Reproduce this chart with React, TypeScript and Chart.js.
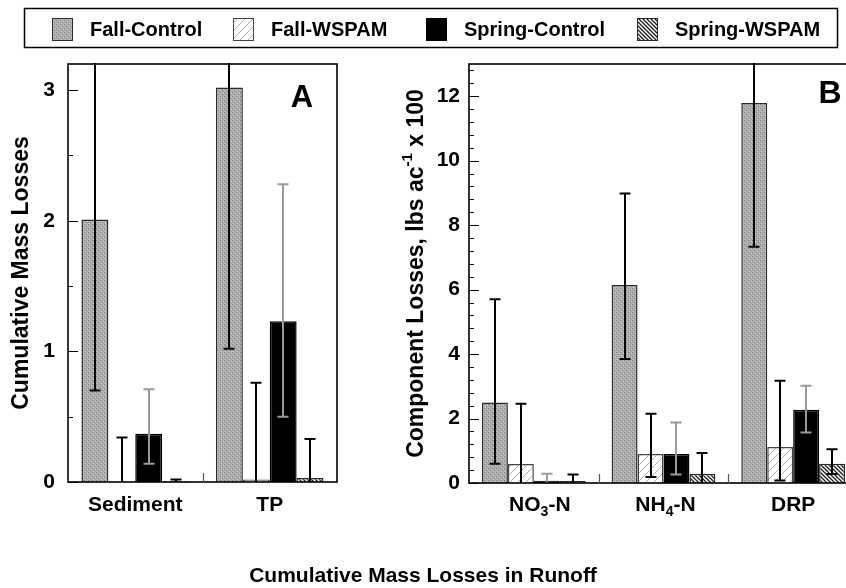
import React, { useEffect, useRef } from 'react';
import { Chart, registerables } from 'chart.js';
Chart.register(...registerables);

const FONT = '"Liberation Sans", Arial, Helvetica, sans-serif';

// ---- data ----
const seriesNames = ['Fall-Control', 'Fall-WSPAM', 'Spring-Control', 'Spring-WSPAM'];

const categoriesA = ['Sediment', 'TP'];
const fallControlA = [2.01, 3.02];
const fallWspamA = [0.0, 0.02];
const springControlA = [0.37, 1.23];
const springWspamA = [0.005, 0.03];
const fallControlHiA = [3.32, 5.02];
const fallControlLoA = [0.7, 1.02];
const fallWspamHiA = [0.34, 0.76];
const fallWspamLoA = [-0.34, -0.72];
const springControlHiA = [0.71, 2.28];
const springControlLoA = [0.14, 0.5];
const springWspamHiA = [0.02, 0.33];
const springWspamLoA = [-0.01, -0.27];
const yTicksA = [0, 1, 2, 3];

const categoriesB = ['NO3-N', 'NH4-N', 'DRP'];
const fallControlB = [2.5, 6.14, 11.79];
const fallWspamB = [0.59, 0.9, 1.12];
const springControlB = [0.07, 0.9, 2.27];
const springWspamB = [0.06, 0.29, 0.6];
const fallControlHiB = [5.7, 8.98, 16.2];
const fallControlLoB = [0.6, 3.85, 7.33];
const fallWspamHiB = [2.46, 2.15, 3.17];
const fallWspamLoB = [-1.28, 0.19, 0.08];
const springControlHiB = [0.29, 1.88, 3.02];
const springControlLoB = [-0.15, 0.26, 1.57];
const springWspamHiB = [0.26, 0.93, 1.05];
const springWspamLoB = [-0.14, -0.35, 0.28];
const yTicksB = [0, 2, 4, 6, 8, 10, 12];

const yTitleA = 'Cumulative Mass Losses';
const yTitleBParts = ['Component Losses, lbs ac', '-1', ' x 100'];
const xTitle = 'Cumulative Mass Losses in Runoff';

// ---- styles ----
const errColors = ['#000', '#000', '#9a9a9a', '#000'];
const borderColors = ['#2a2a2a', '#444', '#000', '#2a2a2a'];

function makePattern(kind: string): any {
  const c = document.createElement('canvas');
  const size = kind === 'dots' ? 4 : kind === 'fwd' ? 8 : 4;
  c.width = size;
  c.height = size;
  const g = c.getContext('2d')!;
  if (kind === 'dots') {
    g.fillStyle = '#adadad';
    g.fillRect(0, 0, 4, 4);
    g.fillStyle = '#7e7e7e';
    g.fillRect(0, 0, 1, 1);
    g.fillRect(2, 2, 1, 1);
    g.fillStyle = '#cdcdcd';
    g.fillRect(1, 3, 1, 1);
    g.fillRect(3, 1, 1, 1);
  } else if (kind === 'fwd') {
    g.fillStyle = '#fff';
    g.fillRect(0, 0, 8, 8);
    g.strokeStyle = '#b2b2b2';
    g.lineWidth = 1;
    g.beginPath();
    g.moveTo(0, 8); g.lineTo(8, 0);
    g.moveTo(-1, 1); g.lineTo(1, -1);
    g.moveTo(7, 9); g.lineTo(9, 7);
    g.stroke();
  } else {
    g.fillStyle = '#fff';
    g.fillRect(0, 0, 4, 4);
    g.strokeStyle = '#1e1e1e';
    g.lineWidth = 1.3;
    g.beginPath();
    g.moveTo(0, 0); g.lineTo(4, 4);
    g.moveTo(-1, 3); g.lineTo(1, 5);
    g.moveTo(3, -1); g.lineTo(5, 1);
    g.stroke();
  }
  return g.createPattern(c, 'repeat');
}

function segs(s: string) {
  return s.split(/(\d+)/).filter(Boolean).map((t) => ({ t, sub: /^\d+$/.test(t) }));
}

function drawXLabel(ctx: CanvasRenderingContext2D, label: string, cx: number, baseY: number) {
  const parts = segs(label);
  const big = `bold 21px ${FONT}`;
  const small = `bold 14px ${FONT}`;
  let total = 0;
  parts.forEach((p) => {
    ctx.font = p.sub ? small : big;
    total += ctx.measureText(p.t).width;
  });
  let x = cx - total / 2;
  ctx.textAlign = 'left';
  ctx.textBaseline = 'alphabetic';
  ctx.fillStyle = '#000';
  parts.forEach((p) => {
    ctx.font = p.sub ? small : big;
    ctx.fillText(p.t, x, p.sub ? baseY + 5 : baseY);
    x += ctx.measureText(p.t).width;
  });
}

function buildConfig(o: any): any {
  const datasets = o.series.map((d: number[], i: number) => ({
    label: seriesNames[i],
    data: d,
    backgroundColor: o.fills[i],
    borderColor: borderColors[i],
    borderWidth: 1.5,
    categoryPercentage: 0.8,
    barPercentage: 1.0,
  }));
  const plugin = {
    id: 'custom' + o.letter,
    afterDatasetsDraw(chart: any) {
      const ctx: CanvasRenderingContext2D = chart.ctx;
      const ya = chart.scales.y;
      const xa = chart.scales.x;
      const a = chart.chartArea;
      // error bars
      ctx.save();
      ctx.beginPath();
      ctx.rect(a.left, a.top - 1, a.right - a.left, a.bottom - a.top + 1);
      ctx.clip();
      chart.data.datasets.forEach((_ds: any, di: number) => {
        const meta = chart.getDatasetMeta(di);
        meta.data.forEach((bar: any, i: number) => {
          const x = Math.round(bar.x);
          const yh = ya.getPixelForValue(o.hi[di][i]);
          const ylRaw = ya.getPixelForValue(o.lo[di][i]);
          const yl = Math.min(ylRaw, a.bottom);
          ctx.strokeStyle = errColors[di];
          ctx.lineWidth = 2;
          ctx.beginPath();
          ctx.moveTo(x, yh);
          ctx.lineTo(x, yl);
          if (yh >= a.top - 1) {
            ctx.moveTo(x - 5.5, yh);
            ctx.lineTo(x + 5.5, yh);
          }
          if (ylRaw < a.bottom - 1) {
            ctx.moveTo(x - 5.5, yl);
            ctx.lineTo(x + 5.5, yl);
          }
          ctx.stroke();
        });
      });
      ctx.restore();

      ctx.save();
      // frame
      ctx.strokeStyle = '#000';
      ctx.lineWidth = 1.6;
      ctx.strokeRect(a.left, a.top, a.right - a.left, a.bottom - a.top);
      // y ticks inward
      ctx.lineWidth = 1.2;
      ctx.beginPath();
      for (let v = 0; v <= o.yMax + 1e-9; v += o.minorStep) {
        const y = Math.round(ya.getPixelForValue(v)) + 0.5;
        const isMajor = o.yTicks.some((t: number) => Math.abs(t - v) < 1e-6);
        ctx.moveTo(a.left, y);
        ctx.lineTo(a.left + (isMajor ? 10 : 5), y);
      }
      ctx.stroke();
      // category separators
      ctx.strokeStyle = '#555';
      ctx.beginPath();
      for (let i = 0; i < o.labels.length - 1; i++) {
        const x = Math.round((xa.getPixelForValue(i) + xa.getPixelForValue(i + 1)) / 2) + 0.5;
        ctx.moveTo(x, a.bottom);
        ctx.lineTo(x, a.bottom - 9);
      }
      ctx.stroke();
      // x labels
      o.labels.forEach((lab: string, i: number) => {
        drawXLabel(ctx, lab, xa.getPixelForValue(i) + (o.labelShift ? o.labelShift[i] : 0), 511);
      });
      // panel letter
      ctx.fillStyle = '#000';
      ctx.font = `bold ${o.letterSize}px ${FONT}`;
      ctx.textAlign = 'center';
      ctx.textBaseline = 'middle';
      ctx.fillText(o.letter, o.letterX, o.letterY);
      // y title
      o.drawYTitle(ctx, a);
      if (o.drawExtra) o.drawExtra(ctx);
      ctx.restore();
    },
  };
  return {
    type: 'bar',
    data: { labels: o.labels, datasets },
    plugins: [plugin],
    options: {
      animation: false,
      responsive: false,
      events: [],
      layout: { padding: { left: 0, top: 64, right: o.padRight, bottom: o.padBottom } },
      plugins: { legend: { display: false }, tooltip: { enabled: false }, title: { display: false } },
      scales: {
        x: {
          type: 'category',
          grid: { display: false },
          border: { display: false },
          ticks: { display: false },
          afterFit: (s: any) => { s.height = 0; },
        },
        y: {
          type: 'linear',
          min: 0,
          max: o.yMax,
          grid: { display: false, drawTicks: false },
          border: { display: false },
          afterBuildTicks: (s: any) => { s.ticks = o.yTicks.map((v: number) => ({ value: v })); },
          afterFit: (s: any) => { s.width = o.axisWidth; },
          ticks: {
            color: '#000',
            padding: o.tickPad,
            font: { family: FONT, size: 21, weight: 'bold' },
          },
        },
      },
    },
  };
}

export default function App() {
  const refA = useRef<HTMLCanvasElement>(null);
  const refB = useRef<HTMLCanvasElement>(null);
  useEffect(() => {
    const fills = [makePattern('dots'), makePattern('fwd'), '#000', makePattern('back')];

    const drawLegendAndTitle = (ctx: CanvasRenderingContext2D) => {
      ctx.save();
      ctx.strokeStyle = '#000';
      ctx.lineWidth = 1.5;
      ctx.strokeRect(24.5, 8.5, 813, 39);
      const sx = [52, 233, 426, 637];
      ctx.font = `bold 20px ${FONT}`;
      ctx.textAlign = 'left';
      ctx.textBaseline = 'middle';
      seriesNames.forEach((n, i) => {
        ctx.fillStyle = fills[i];
        ctx.fillRect(sx[i], 18, 20, 22);
        ctx.strokeStyle = borderColors[i];
        ctx.lineWidth = 1;
        ctx.strokeRect(sx[i] + 0.5, 18.5, 20, 22);
        ctx.fillStyle = '#000';
        ctx.fillText(n, sx[i] + 38, 30);
      });
      ctx.font = `bold 21px ${FONT}`;
      ctx.textAlign = 'center';
      ctx.fillText(xTitle, 423, 576);
      ctx.restore();
    };

    const chartA = new Chart(refA.current!, buildConfig({
      labels: categoriesA,
      series: [fallControlA, fallWspamA, springControlA, springWspamA],
      hi: [fallControlHiA, fallWspamHiA, springControlHiA, springWspamHiA],
      lo: [fallControlLoA, fallWspamLoA, springControlLoA, springWspamLoA],
      fills,
      yMax: 3.2,
      yTicks: yTicksA,
      minorStep: 0.5,
      axisWidth: 68,
      padRight: 846 - 337,
      padBottom: 588 - 482,
      tickPad: 13,
      letter: 'A',
      letterX: 302,
      letterY: 98,
      letterSize: 31,
      drawYTitle: (ctx: CanvasRenderingContext2D, a: any) => {
        ctx.save();
        ctx.translate(22, (a.top + a.bottom) / 2);
        ctx.rotate(-Math.PI / 2);
        ctx.font = `bold 23px ${FONT}`;
        ctx.textAlign = 'center';
        ctx.textBaseline = 'middle';
        ctx.fillStyle = '#000';
        ctx.fillText(yTitleA, 0, 0);
        ctx.restore();
      },
      drawExtra: drawLegendAndTitle,
    }));

    const chartB = new Chart(refB.current!, buildConfig({
      labels: categoriesB,
      series: [fallControlB, fallWspamB, springControlB, springWspamB],
      hi: [fallControlHiB, fallWspamHiB, springControlHiB, springWspamHiB],
      lo: [fallControlLoB, fallWspamLoB, springControlLoB, springWspamLoB],
      fills,
      yMax: 13,
      yTicks: yTicksB,
      minorStep: 0.4,
      axisWidth: 469,
      padRight: 900 - 858,
      padBottom: 588 - 483,
      tickPad: 9,
      labelShift: [6, 2, 0],
      letter: 'B',
      letterX: 830,
      letterY: 94,
      letterSize: 32,
      drawYTitle: (ctx: CanvasRenderingContext2D, a: any) => {
        ctx.save();
        ctx.translate(415, (a.top + a.bottom) / 2);
        ctx.rotate(-Math.PI / 2);
        const big = `bold 23px ${FONT}`;
        const small = `bold 15px ${FONT}`;
        ctx.font = big;
        const w0 = ctx.measureText(yTitleBParts[0]).width;
        const w2 = ctx.measureText(yTitleBParts[2]).width;
        ctx.font = small;
        const w1 = ctx.measureText(yTitleBParts[1]).width;
        let x = -(w0 + w1 + w2) / 2;
        ctx.textAlign = 'left';
        ctx.textBaseline = 'alphabetic';
        ctx.fillStyle = '#000';
        ctx.font = big;
        ctx.fillText(yTitleBParts[0], x, 8);
        x += w0;
        ctx.font = small;
        ctx.fillText(yTitleBParts[1], x, -3);
        x += w1;
        ctx.font = big;
        ctx.fillText(yTitleBParts[2], x, 8);
        ctx.restore();
      },
    }));

    return () => {
      chartA.destroy();
      chartB.destroy();
    };
  }, []);

  return (
    <div style={{ position: 'fixed', left: 0, top: 0, width: 846, height: 588, overflow: 'hidden', background: '#fff' }}>
      <canvas ref={refA} width={846} height={588} style={{ position: 'absolute', left: 0, top: 0, width: 846, height: 588 }} />
      <canvas ref={refB} width={900} height={588} style={{ position: 'absolute', left: 0, top: 0, width: 900, height: 588 }} />
    </div>
  );
}
